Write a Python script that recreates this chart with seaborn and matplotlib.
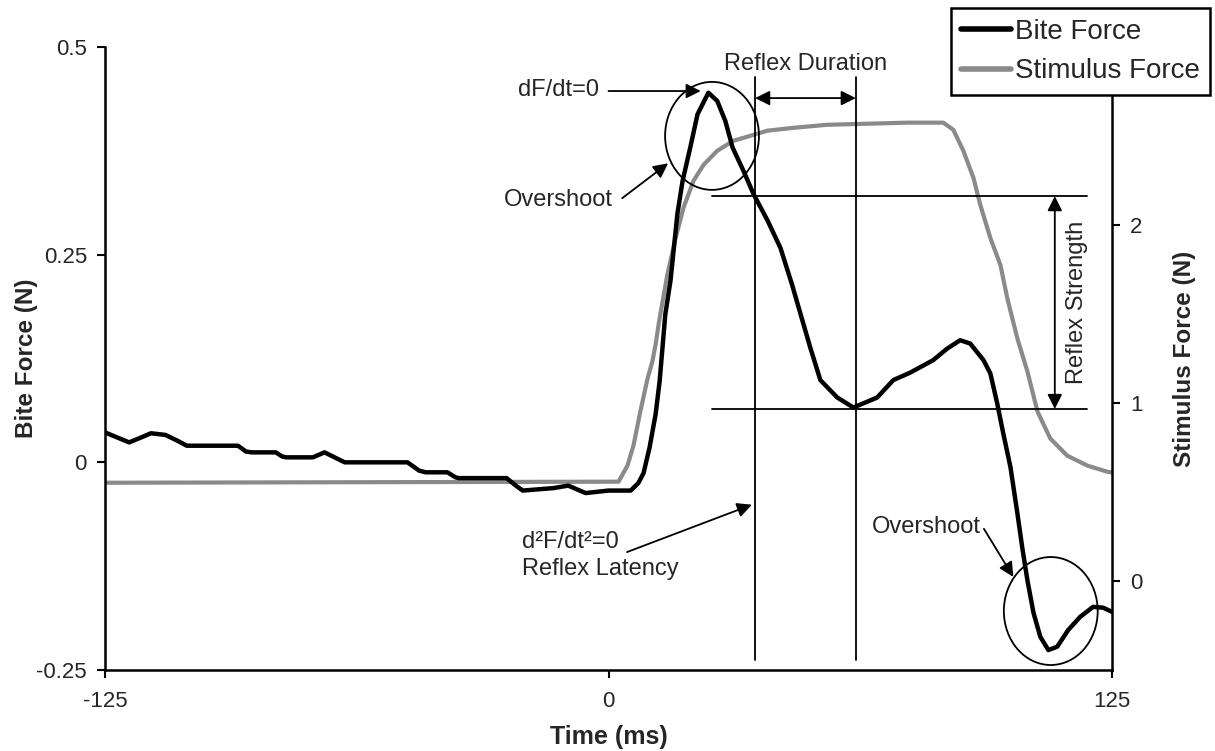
import matplotlib
matplotlib.use("Agg")
import matplotlib.pyplot as plt
from matplotlib.patches import Ellipse
import seaborn as sns

# ---- data ----
bite_time = [-125, -121, -119, -116, -113.6, -110, -107, -104.7, -92, -90, -88.6, -82.6,
             -81, -80, -73.4, -70.5, -68, -65.5, -49.9, -47, -45.4, -40, -38, -37.2,
             -25.3, -23, -21.3, -13.6, -10, -5.7, 0, 3,
             5.5, 7.4, 8.7, 10.2, 11.7, 12.7, 13.4, 14.1, 15.4, 17.1, 18.4, 20.3,
             22.1, 24.8, 27.0, 29.0, 30.8, 33.5, 36.0, 39.5, 42.7, 45.5, 50.1, 52.6,
             56.8, 60.8, 66.7, 70.7, 74.9, 80.6, 84.1, 87.3, 89.8, 93.1, 94.8, 96.5,
             98.0, 99.8, 101.5, 102.7, 104.0, 105.5, 107.2, 109.2, 111.4, 114.1,
             117.1, 120.3, 122.8, 125]
bite_force = [0.036, 0.028, 0.024, 0.030, 0.035, 0.033, 0.026, 0.020, 0.020, 0.013, 0.012, 0.012,
              0.007, 0.006, 0.006, 0.012, 0.006, 0.000, 0.000, -0.010, -0.012, -0.012, -0.018, -0.019,
              -0.019, -0.028, -0.034, -0.031, -0.028, -0.037, -0.034, -0.034,
              -0.034, -0.025, -0.013, 0.018, 0.058, 0.098, 0.138, 0.178,
              0.219, 0.299, 0.339, 0.379, 0.419, 0.445, 0.435, 0.411, 0.379, 0.351, 0.323,
              0.291, 0.258, 0.215, 0.138, 0.099, 0.078, 0.066, 0.078, 0.099, 0.108, 0.123,
              0.137, 0.147, 0.143, 0.123, 0.107, 0.071, 0.035, -0.006, -0.061, -0.102,
              -0.142, -0.181, -0.210, -0.226, -0.222, -0.202, -0.186, -0.174, -0.175, -0.180]

stim_time = [-125, 2.5, 4.7, 6.2, 7.9, 9.7, 10.9, 11.7, 12.5, 13.5, 14.6, 16.6, 18.6,
             21.1, 23.6, 27.0, 31.0, 35.2, 39.5, 45.9, 54.3, 74.2, 83.1, 85.6, 88.1,
             90.6, 92.3, 94.8, 97.3, 99.0, 101.5, 104.0, 106.5, 109.7, 113.9, 118.9,
             123.8, 125]
stim_force = [0.552, 0.558, 0.648, 0.761, 0.952, 1.138, 1.234, 1.33, 1.45, 1.58, 1.72,
              1.92, 2.096, 2.248, 2.338, 2.417, 2.473, 2.501, 2.530, 2.546, 2.563, 2.575,
              2.575, 2.535, 2.417, 2.265, 2.113, 1.927, 1.775, 1.589, 1.363, 1.177, 0.952,
              0.800, 0.704, 0.648, 0.614, 0.610]

x_ticks = [-125, 0, 125]
left_ticks = [-0.25, 0, 0.25, 0.5]
left_tick_labels = ["-0.25", "0", "0.25", "0.5"]
right_ticks = [0, 1, 2]
series_labels = ["Bite Force", "Stimulus Force"]

# ---- style ----
sns.set_style("white")
plt.rcParams["font.family"] = ["Liberation Sans", "DejaVu Sans"]

fig = plt.figure(figsize=(12.15, 7.51), dpi=100)
ax = fig.add_axes([105 / 1215, 81 / 751, 1007 / 1215, 623 / 751])
ax2 = ax.twinx()

GRAY = "#8a8a8a"
sns.lineplot(x=bite_time, y=bite_force, ax=ax, color="black", lw=3.2,
             solid_joinstyle="round", solid_capstyle="round")
sns.lineplot(x=stim_time, y=stim_force, ax=ax2, color=GRAY, lw=3.0,
             solid_joinstyle="round", solid_capstyle="round")

# black series above gray one
ax.set_zorder(ax2.get_zorder() + 1)
ax.patch.set_visible(False)

ax.set_xlim(-125, 125)
ax.set_ylim(-0.25, 0.5)
ax2.set_ylim(-0.5, 3.0)

ax.set_xticks(x_ticks)
ax.set_xticklabels([str(v) for v in x_ticks])
ax.set_yticks(left_ticks)
ax.set_yticklabels(left_tick_labels)
ax2.set_yticks(right_ticks)
ax2.set_yticklabels([str(v) for v in right_ticks])

for s in ["top", "right"]:
    ax.spines[s].set_visible(False)
for s in ["top", "left", "bottom"]:
    ax2.spines[s].set_visible(False)
for s in ["left", "bottom"]:
    ax.spines[s].set_linewidth(1.8)
    ax.spines[s].set_color("black")
ax2.spines["right"].set_linewidth(1.8)
ax2.spines["right"].set_color("black")

ax.tick_params(axis="both", direction="out", length=6, width=1.5, labelsize=16,
               color="black", pad=7, bottom=True, left=True)
ax.tick_params(axis="x", pad=9)
ax2.tick_params(axis="y", direction="out", length=6, width=1.5, labelsize=16,
                color="black", pad=7, right=True)

ax.set_xlabel("Time (ms)", fontsize=18, fontweight="bold")
ax.set_ylabel("Bite Force (N)", fontsize=17.5, fontweight="bold")
ax2.set_ylabel("Stimulus Force (N)", fontsize=17.5, fontweight="bold")
ax.xaxis.set_label_coords(0.5, -0.1075)
ax.xaxis.label.set_verticalalignment("center")
ax.yaxis.set_label_coords(-0.078, 0.5)
ax.yaxis.label.set_verticalalignment("center")
ax2.yaxis.set_label_coords(1.0715, 0.5)
ax2.yaxis.label.set_verticalalignment("center")

# ---- annotations ----
LW = 1.3
ANN = 17
lt, rt = 36.4, 61.4
ax.plot([lt, lt], [-0.238, 0.464], color="black", lw=LW)
ax.plot([rt, rt], [-0.238, 0.464], color="black", lw=LW)
ax.plot([25.7, 118.8], [0.3205, 0.3205], color="black", lw=LW)
ax.plot([25.7, 118.8], [0.0642, 0.0642], color="black", lw=LW)

arrow = dict(arrowstyle="-|>", color="black", lw=LW, mutation_scale=22,
             shrinkA=0, shrinkB=0)
darrow = dict(arrowstyle="<|-|>", color="black", lw=LW, mutation_scale=22,
              shrinkA=0, shrinkB=0)

# reflex duration
ax.annotate("", xy=(rt, 0.4385), xytext=(lt, 0.4385), arrowprops=darrow)
ax.text(48.9, 0.480, "Reflex Duration", ha="center", va="center", fontsize=ANN)
# reflex strength
ax.annotate("", xy=(110.8, 0.0642), xytext=(110.8, 0.3205), arrowprops=darrow)
ax.text(116.3, 0.193, "Reflex Strength", ha="center", va="center",
        rotation=90, fontsize=ANN)
# dF/dt = 0
ax.text(-2.4, 0.448, "dF/dt=0", ha="right", va="center", fontsize=ANN)
ax.annotate("", xy=(22.9, 0.447), xytext=(0.0, 0.447), arrowprops=arrow)
# overshoot top
ax.add_patch(Ellipse((25.7, 0.393), 23.3, 0.130, fill=False, ec="black", lw=LW))
ax.text(1.1, 0.316, "Overshoot", ha="right", va="center", fontsize=ANN)
ax.annotate("", xy=(14.8, 0.360), xytext=(3.4, 0.318), arrowprops=arrow)
# overshoot bottom
ax.add_patch(Ellipse((109.8, -0.179), 23.3, 0.130, fill=False, ec="black", lw=LW))
ax.text(78.8, -0.078, "Overshoot", ha="center", va="center", fontsize=ANN)
ax.annotate("", xy=(100.5, -0.138), xytext=(93.2, -0.080), arrowprops=arrow)
# latency
ax.text(-21.5, -0.096, "d²F/dt²=0", ha="left", va="center", fontsize=ANN)
ax.text(-21.5, -0.128, "Reflex Latency", ha="left", va="center", fontsize=ANN)
ax.annotate("", xy=(35.6, -0.051), xytext=(4.6, -0.108), arrowprops=arrow)

# ---- legend ----
handles = [ax.lines[0], ax2.lines[0]]
leg = fig.legend(handles, series_labels, loc="upper right",
                 bbox_to_anchor=(1210 / 1215, 1 - 8 / 751),
                 fontsize=20, frameon=True, fancybox=False, framealpha=1,
                 facecolor="white", edgecolor="black", handlelength=1.8,
                 handletextpad=0.12, borderpad=0.38, labelspacing=0.5,
                 borderaxespad=0)
leg.get_frame().set_linewidth(1.8)
for h in leg.legend_handles:
    h.set_linewidth(4)

fig.savefig("out.png", dpi=100, facecolor="white")
